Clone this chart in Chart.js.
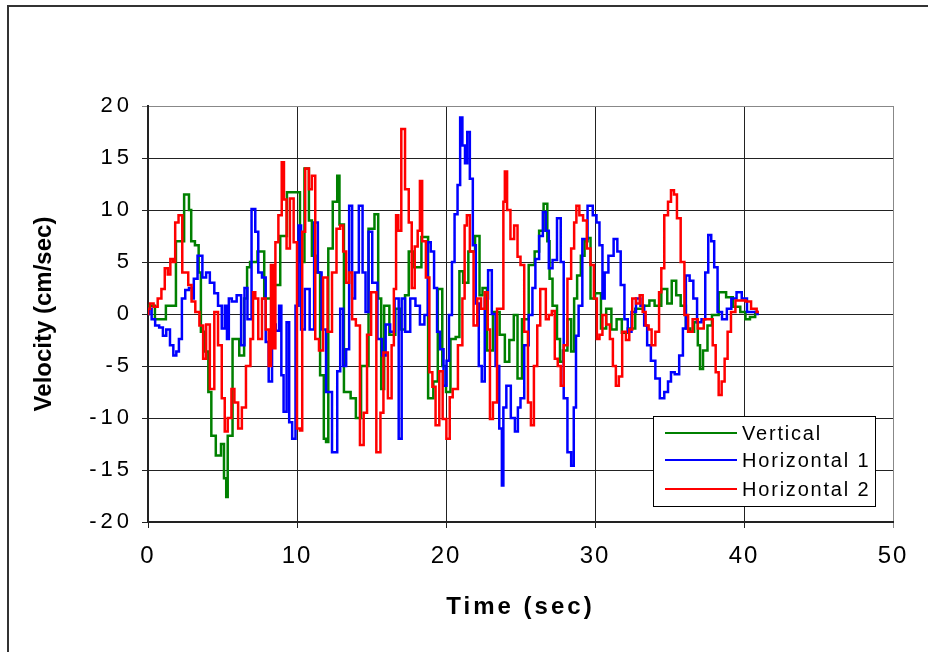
<!DOCTYPE html>
<html>
<head>
<meta charset="utf-8">
<script src="https://cdn.jsdelivr.net/npm/chart.js@4.4.0/dist/chart.umd.min.js"></script>
<style>
    html, body { margin: 0; padding: 0; background: #fff; }
    #wrap { position: relative; width: 928px; height: 652px; overflow: hidden; }
    #frame { position: absolute; left: 7px; top: 5px; right: -10px; bottom: -10px;
             border-left: 2px solid #333; border-top: 2px solid #333; }
    canvas { position: absolute; left: 0; top: 0; }
</style>
</head>
<body>
<div id="wrap">
    <div id="frame"></div>
    <canvas id="velocityChart" width="928" height="652"></canvas>
</div>
<script>
// values (time in sec, velocity in cm/sec)
const vertT = [0, 0.13, 0.8, 1.6, 2.15, 2.7, 2.8, 3.0, 3.3, 3.5, 3.6, 3.9, 4.2, 4.3, 4.8, 5.0, 5.2, 5.3, 5.4, 5.95,
    6.3, 6.6, 6.7, 7.0, 7.7, 7.9, 8.65, 9.1, 9.55, 10.1, 10.3, 10.7, 10.9, 11.1, 11.4, 11.7, 11.9, 12.0, 12.2, 12.6,
    12.8, 12.9, 13.4, 13.8, 14.1, 14.5, 15.1, 15.3, 15.6, 15.7, 16.0, 16.4, 16.8, 17.1, 17.4, 17.6, 18.1, 18.6, 19.0, 19.3,
    19.6, 19.9, 20.1, 20.5, 20.8, 21.0, 21.3, 21.7, 22.2, 22.3, 22.6, 22.9, 23.4, 23.8, 24.1, 24.4, 24.7, 24.9, 25.3, 25.8,
    26.1, 26.4, 26.7, 26.9, 27.0, 27.3, 27.6, 27.7, 28.0, 28.3, 28.5, 28.7, 28.9, 29.2, 29.4, 29.6, 29.8, 30.2, 30.6, 30.9,
    31.3, 31.6, 32.0, 32.4, 33.0, 33.5, 33.8, 34.2, 34.7, 35.0, 35.3, 35.6, 35.9, 36.3, 36.5, 36.8, 37.0, 37.1, 37.4, 37.7,
    38.0, 38.6, 39.0, 39.5, 40.0, 40.2, 40.6, 40.9];
const vertV = [0, 0.8, -0.5, 0.8, 7, 11.5, 10, 7, 6.6, 4, -1.7, -3.6, -7.5, -11.7, -13.6, -12.5, -15.8, -17.6, -11.7, -2.4,
    -4, 1.5, 4.5, 5, 6, 1.5, 2.8, 7.5, 11.7, 11.7, 5, 14, 9, 5.6, 4, -5.9, -12, -12.3, 6.3, 10.8,
    13.3, 8.6, -7.5, -8.1, -10, -5, 8.2, 9.6, 1.5, -7.2, 0.8, -2, 0.5, -1.5, 1.8, 6, 4.5, 7.4, -8.1, -6.5,
    2.4, -5, -7.5, -2.4, -2.2, 4.1, 3, 6, 7.5, 1.8, 2.5, -3.5, 0.2, -2, -4.6, -2.5, -0.1, -6.2, -0.5, 4.7,
    6, 8, 10.6, 7, 3.4, 0.8, -2.4, -4.6, -3.5, -0.5, -3.6, 1.5, 3.7, 5.6, 7, 7.3, 1.5, 2, -1.4, 0.5,
    -1.5, -0.5, -1.8, -1.4, 0.5, 0.8, 1.3, 0.8, 2.4, 1, 3.2, 1.8, 0.8, -1.4, -1.7, -0.8, -3, -5.3, -3.5, -1.1,
    -0.1, 2.1, 1.6, 0.7, 0.2, -0.5, -0.3, 0.2];

const hor1T = [0, 0.13, 0.36, 0.6, 0.9, 1.1, 1.35, 1.6, 1.8, 2.0, 2.15, 2.4, 2.6, 2.9, 3.0, 3.15, 3.5, 3.8, 4.0, 4.3,
    4.6, 4.8, 5.1, 5.2, 5.4, 5.45, 5.8, 6.1, 6.4, 6.55, 6.8, 7.1, 7.3, 7.5, 7.8, 8.0, 8.2, 8.45, 8.7, 8.9,
    9.0, 9.2, 9.4, 9.55, 9.8, 10.0, 10.2, 10.35, 10.7, 11.0, 11.3, 11.5, 11.8, 12.1, 12.6, 12.8, 13.0, 13.2, 13.4, 13.6,
    13.8, 14.0, 14.3, 14.5, 14.7, 14.9, 15.2, 15.6, 15.8, 16.1, 16.4, 16.7, 16.95, 17.1, 17.4, 17.8, 18.1, 18.4, 18.7, 18.85,
    19.1, 19.3, 19.5, 19.7, 19.97, 20.1, 20.3, 20.5, 20.65, 20.9, 21.0, 21.2, 21.35, 21.5, 21.7, 21.9, 22.1, 22.3, 22.5, 22.7,
    22.95, 23.2, 23.45, 23.7, 23.8, 23.9, 24.2, 24.5, 24.75, 24.9, 25.1, 25.4, 25.7, 25.9, 26.1, 26.4, 26.6, 26.8, 27.0, 27.3,
    27.6, 27.8, 28.0, 28.3, 28.5, 28.65, 28.8, 29.0, 29.3, 29.7, 30.0, 30.2, 30.4, 30.6, 30.7, 31.1, 31.4, 31.6, 31.85, 32.1,
    32.3, 32.6, 32.9, 33.2, 33.4, 33.6, 33.9, 34.2, 34.5, 34.8, 35.0, 35.2, 35.5, 35.8, 36.0, 36.2, 36.5, 36.7, 37.0, 37.3,
    37.5, 37.7, 37.9, 38.1, 38.35, 38.7, 39.0, 39.3, 39.7, 40.0, 40.4, 40.8, 41.0];
const hor1V = [0, 0.5, -0.5, -1.1, -1.3, -2.1, -1.5, -3, -4, -3.6, -2.4, 1.5, 2.3, 2.5, 1.5, 3.4, 5.6, 3.5, 4, 3,
    2, 0.8, -1.4, 0.8, -2.4, 1.5, 1.2, 1.8, -3, 2.5, -0.5, 10.1, 7.9, 4, 3.5, -2.7, -6.5, -1, -1.6, 0.8,
    -5.9, -9.4, -0.8, -10.4, -12, 0.8, 8.5, -1.5, 2.4, -1.5, 8.8, 4, -1.5, -7.5, -13.3, -5.5, 0.5, -5, -3.4, 10.4,
    1.5, 4, 10.4, 4, 0.2, 7.9, 3, -2.4, -4, -1, -1.7, 1.5, -12, 1.5, -1.7, 1.5, 0.8, -1, -0.1, 6.9,
    6, 2.5, -1.7, -3.4, -6.9, -4.5, -0.1, 5, 9.6, 12.4, 18.9, 16.2, 14.5, 17.5, 13, 6.6, 1, -5, -6.5, 1.5,
    4.2, 0, -5, -11, -16.5, -9, -6.9, -10, -11.3, -9, -8.1, -3, -0.1, 2.5, 5.3, 7.5, 9.8, 8, 4.4, 5.2,
    9.2, 5, -8.1, -13.3, -14.6, -9, -2.1, 0.8, 7.2, 10.4, 9.5, 8.8, 6.6, 1.5, 4, 5.6, 7.2, 6, 2.8, -0.5,
    -1.7, 0.2, 1.5, 0.8, -1.1, -3, -4.5, -6.2, -8.1, -7.5, -6.5, -5.6, -5.8, -4, -1.4, 3.7, 3.2, 1.5, -0.8, -0.5,
    4, 7.6, 7, 4.5, 0.2, -0.5, 0.5, 1.5, 2.1, 1.5, 0.2, 0.2, 0];

const hor2T = [0, 0.02, 0.25, 0.5, 0.8, 1.0, 1.25, 1.4, 1.6, 1.75, 1.9, 2.2, 2.4, 2.6, 2.8, 3.05, 3.3, 3.6, 3.8, 4.0,
    4.3, 4.6, 4.8, 5.1, 5.2, 5.5, 5.7, 5.9, 6.2, 6.4, 6.75, 7.0, 7.1, 7.3, 7.5, 7.8, 8.0, 8.2, 8.3, 8.5,
    8.6, 8.9, 9.05, 9.2, 9.4, 9.65, 9.9, 10.1, 10.3, 10.4, 10.7, 10.9, 11.1, 11.35, 11.6, 11.9, 12.2, 12.5, 12.8, 13.0,
    13.2, 13.4, 13.6, 13.8, 14.1, 14.35, 14.6, 14.8, 15.15, 15.5, 15.7, 15.9, 16.3, 16.4, 16.6, 16.7, 16.9, 17.1, 17.4, 17.6,
    17.8, 18.0, 18.2, 18.3, 18.5, 18.8, 18.97, 19.2, 19.4, 19.7, 19.85, 20.2, 20.3, 20.6, 21.0, 21.2, 21.3, 21.5, 21.7, 22.0,
    22.2, 22.5, 22.7, 22.9, 23.0, 23.3, 23.55, 23.8, 23.9, 24.0, 24.2, 24.45, 24.7, 24.9, 25.1, 25.4, 25.6, 25.8, 26.0, 26.25,
    26.4, 26.6, 26.8, 27.0, 27.2, 27.4, 27.6, 27.8, 28.0, 28.3, 28.5, 28.7, 28.8, 29.1, 29.3, 29.6, 29.8, 30.05, 30.2, 30.4,
    30.6, 30.9, 31.1, 31.3, 31.5, 31.7, 31.95, 32.2, 32.4, 32.6, 32.9, 33.1, 33.3, 33.5, 33.7, 33.9, 34.2, 34.4, 34.5, 34.8,
    35.0, 35.2, 35.4, 35.6, 35.9, 36.1, 36.4, 36.7, 37.1, 37.5, 37.8, 38.0, 38.2, 38.4, 38.6, 38.8, 39.0, 39.25, 39.6, 40.0,
    40.25, 40.7, 41.0];
const hor2V = [0, 0.5, 1, 0.7, 1.5, 2.4, 4.4, 3.8, 5.3, 5, 8.8, 9.5, 4, 4, 2.8, 1.2, 0.2, -1.1, -4.3, -1,
    -7.2, 0.2, -3, -8.1, -11.3, -10, -7.2, -8.5, -11, -9, -5, -2.4, 2.1, 1.5, -2.4, 1.5, -1.5, -5, 4.7, -3.3,
    6.9, 9.5, 14.6, 11, 6.3, 11.1, 6.9, -11, -11.2, 7.9, 14, 12, 13.3, -2.4, -3.5, 3.5, -1.7, 4, 8.2, 8.5,
    6, 3, 4, -0.5, -1.1, -12.6, -9.5, -2, 2.1, -13.3, -9.5, -3.7, -8.1, -3, 2.4, 9.5, 8, 17.8, 12, 8.8,
    2.5, 6.5, 8, 12.8, 7, 3.5, -5.6, -7, -10.7, -5.5, -10.1, -12, -8, -7.2, -3, 1.5, 8.5, 9.5, 6, -1.1,
    1.5, 0.5, 2.1, -1.5, -10.1, -8.5, 0.5, 0.5, 10.8, 13.7, 10, 7.2, 8.5, 5.5, 4.7, -1.7, -8.5, -10.7, -5, -1.1,
    2.4, 2.4, -0.5, -0.1, 0.3, -4.3, -5, -6.9, -3, 3.4, 6.3, 8.8, 10.4, 9.5, 9, 6.3, 4.7, 1.5, -2.4, -2,
    -0.1, -1, -2.4, -5, -6.9, -6, -1.7, -2.5, -1.5, 1.5, 1, 1.8, 0.2, -1.1, -1.5, -3, -1.7, 2.1, 4.4, 9.5,
    10.8, 11.9, 11.5, 9.2, 5, -0.1, -1.7, -0.5, -1.4, -0.5, -0.5, -3, -5.6, -7.8, -6.5, -4.3, -1.7, 0.2, 1.3, 1.3,
    1.2, 0.5, 0.2];

const seriesNames = ['Vertical', 'Horizontal 1', 'Horizontal 2'];
const seriesColors = ['#008000', '#0000ff', '#ff0000'];
const xTicks = [0, 10, 20, 30, 40, 50];
const yTicks = [-20, -15, -10, -5, 0, 5, 10, 15, 20];

function toPoints(ts, vs) {
    return ts.map((t, i) => ({ x: t, y: vs[i] }));
}

// the picture's text is drawn wider than normal, so add some letter spacing per axis
const textSpacing = {
    id: 'textSpacing',
    afterLayout(chart) {
        const spacing = { x: ['2px', '3px'], y: ['4px', '0px'] };
        Object.keys(spacing).forEach(id => {
            const scale = chart.scales[id];
            if (!scale || scale._spaced) return;
            scale._spaced = true;
            const drawLabels = scale.drawLabels;
            const drawTitle = scale.drawTitle;
            scale.drawLabels = function(area) {
                this.ctx.save();
                this.ctx.letterSpacing = spacing[id][0];
                drawLabels.call(this, area);
                this.ctx.restore();
            };
            scale.drawTitle = function() {
                this.ctx.save();
                this.ctx.letterSpacing = spacing[id][1];
                drawTitle.call(this);
                this.ctx.restore();
            };
        });
    }
};

// boxed legend sitting inside the plot, lower right
const boxLegend = {
    id: 'boxLegend',
    afterDraw(chart) {
        const ctx = chart.ctx;
        const area = chart.chartArea;
        const left = area.right - 240, top = area.bottom - 106;
        const rows = [17, 44, 73];
        ctx.save();
        ctx.fillStyle = '#fff';
        ctx.fillRect(left, top, 222, 90);
        ctx.strokeStyle = '#000';
        ctx.lineWidth = 1;
        ctx.strokeRect(left + 0.5, top + 0.5, 222, 90);
        ctx.font = '20px "Liberation Sans", Arial, sans-serif';
        ctx.letterSpacing = '1.8px';
        ctx.textBaseline = 'middle';
        chart.data.datasets.forEach((ds, i) => {
            const y = top + rows[i];
            ctx.strokeStyle = ds.borderColor;
            ctx.lineWidth = 2;
            ctx.beginPath();
            ctx.moveTo(left + 12, y);
            ctx.lineTo(left + 84, y);
            ctx.stroke();
            ctx.fillStyle = '#000';
            ctx.fillText(ds.label, left + 89, y + 1);
        });
        ctx.restore();
    }
};

Chart.defaults.font.family = '"Liberation Sans", Arial, sans-serif';
Chart.defaults.color = '#000';

const ctx = document.getElementById('velocityChart').getContext('2d');
new Chart(ctx, {
    type: 'line',
    data: {
        datasets: [
            { label: seriesNames[0], data: toPoints(vertT, vertV), borderColor: seriesColors[0], order: 3 },
            { label: seriesNames[1], data: toPoints(hor1T, hor1V), borderColor: seriesColors[1], order: 2 },
            { label: seriesNames[2], data: toPoints(hor2T, hor2V), borderColor: seriesColors[2], order: 1 }
        ]
    },
    options: {
        responsive: false,
        animation: false,
        layout: { padding: { top: 106, right: 35, left: 0, bottom: 0 } },
        elements: {
            point: { radius: 0 },
            line: { borderWidth: 2.5, tension: 0, fill: false, stepped: 'middle' }
        },
        plugins: {
            legend: { display: false },
            tooltip: { enabled: false }
        },
        scales: {
            x: {
                type: 'linear',
                min: 0,
                max: 50,
                afterBuildTicks: s => { s.ticks = xTicks.map(v => ({ value: v })); },
                afterFit: s => { s.height = 130; },
                ticks: { font: { size: 24 }, padding: 14, maxRotation: 0 },
                grid: {
                    color: c => c.tick && c.tick.value === 50 ? '#888' : '#222',
                    lineWidth: 1,
                    tickLength: 6
                },
                border: { color: '#222', width: 2 },
                title: {
                    display: true,
                    text: 'Time (sec)',
                    font: { size: 24, weight: 'bold' },
                    padding: { bottom: 30 }
                }
            },
            y: {
                min: -20,
                max: 20,
                afterBuildTicks: s => { s.ticks = yTicks.map(v => ({ value: v })); },
                afterFit: s => { s.width = 148; },
                ticks: { font: { size: 22 }, padding: 9 },
                grid: {
                    color: c => c.tick && c.tick.value === 20 ? '#888' : '#222',
                    lineWidth: 1,
                    tickLength: 6
                },
                border: { color: '#222', width: 2 },
                title: {
                    display: true,
                    text: 'Velocity (cm/sec)',
                    font: { size: 24, weight: 'bold' },
                    padding: { top: 30 }
                }
            }
        }
    },
    plugins: [textSpacing, boxLegend]
});
</script>
</body>
</html>
